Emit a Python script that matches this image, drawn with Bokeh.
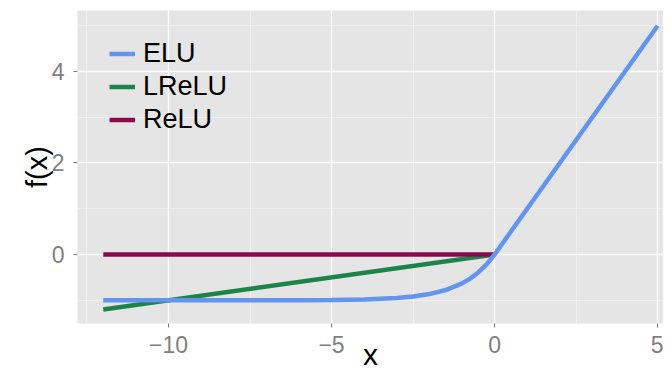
from bokeh.plotting import figure
from bokeh.models import FixedTicker, Range1d, Legend, LegendItem
from bokeh.embed import file_html
from bokeh.resources import INLINE

# Data
elu_x = [-12, -10, -8, -6, -5, -4, -3, -2.5, -2, -1.5, -1, -0.75, -0.5, -0.25, 0, 5]
elu_y = [-1.0, -1.0, -1.0, -0.998, -0.993, -0.982, -0.95, -0.918, -0.865, -0.777,
         -0.632, -0.528, -0.393, -0.221, 0, 5]
lrelu_x = [-12, 0]
lrelu_y = [-1.2, 0]
relu_x = [-12, 0]
relu_y = [0, 0]

x_ticks = [-10, -5, 0, 5]
x_minor = [-12.5, -7.5, -2.5, 2.5]
y_ticks = [0, 2, 4]
y_minor = [-1, 1, 3, 5]

FONT = "Liberation Sans"

p = figure(width=663, height=376, output_backend="svg", toolbar_location=None,
           x_range=Range1d(-12.79, 5.18), y_range=Range1d(-1.508, 5.333),
           min_border_left=77, min_border_right=0, min_border_top=10, min_border_bottom=53)

p.background_fill_color = "#e5e5e5"
p.border_fill_color = "white"
p.outline_line_color = None

p.xaxis.ticker = FixedTicker(ticks=x_ticks, minor_ticks=x_minor)
p.yaxis.ticker = FixedTicker(ticks=y_ticks, minor_ticks=y_minor)
p.xaxis.major_label_overrides = {-10: "\u221210", -5: "\u22125"}

for ax in (p.xaxis, p.yaxis):
    ax.axis_line_color = None
    ax.major_tick_line_color = "#7f7f7f"
    ax.major_tick_in = 0
    ax.major_tick_out = 4
    ax.minor_tick_line_color = None
    ax.major_label_text_color = "#7f7f7f"
    ax.major_label_text_font = FONT
    ax.major_label_text_font_size = "23px"
    ax.axis_label_text_font = FONT
    ax.axis_label_text_font_style = "normal"
    ax.axis_label_text_color = "black"
    ax.axis_label_text_font_size = "29px"
p.xaxis.axis_label_text_font_size = "30px"
p.xaxis.major_label_standoff = 8
p.yaxis.major_label_standoff = 9
p.xaxis.axis_label = "x"
p.yaxis.axis_label = "f(x)"
p.xaxis.axis_label_standoff = -18
p.yaxis.axis_label_standoff = -4

for g in (p.xgrid, p.ygrid):
    g.grid_line_color = "white"
    g.grid_line_width = 1.3
    g.minor_grid_line_color = "white"
    g.minor_grid_line_alpha = 0.55
    g.minor_grid_line_width = 0.7

r_l = p.line(lrelu_x, lrelu_y, line_color="#1C834B", line_width=4.5)
r_r = p.line(relu_x, relu_y, line_color="#8B0A4F", line_width=4.5)
r_e = p.line(elu_x, elu_y, line_color="#6394EE", line_width=4.5)

legend = Legend(items=[LegendItem(label="ELU", renderers=[r_e]),
                       LegendItem(label="LReLU", renderers=[r_l]),
                       LegendItem(label="ReLU", renderers=[r_r])],
                location=(32, 187), padding=0, margin=0, spacing=0,
                glyph_width=26, glyph_height=33, label_height=33,
                label_standoff=8, background_fill_alpha=0, border_line_color=None,
                label_text_font=FONT, label_text_font_size="27px",
                label_text_color="black")
p.add_layout(legend, "center")

open("out.html", "w").write(file_html(p, INLINE))
